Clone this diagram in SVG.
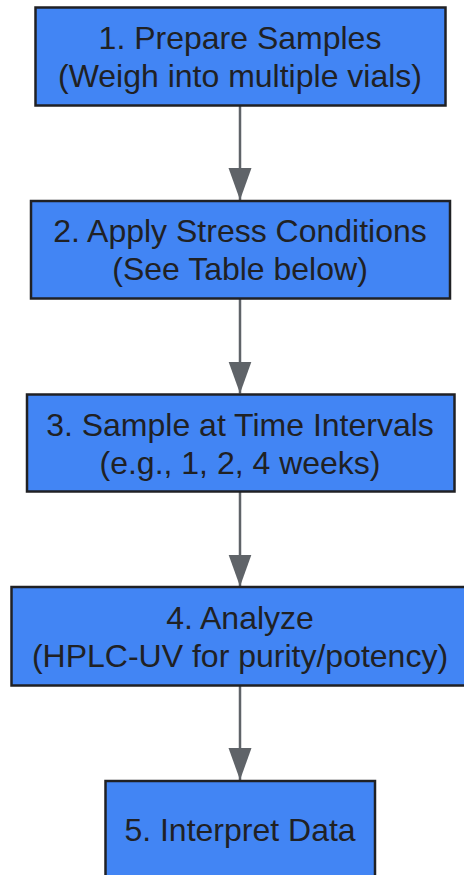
<svg xmlns="http://www.w3.org/2000/svg" width="464" height="875" viewBox="0 0 464 875">
<style>
.box{fill:#4285F4;stroke:#202124;stroke-width:2.5}
.t{font-family:"Liberation Sans",Arial,sans-serif;font-size:32px;fill:#202124;text-anchor:middle}
.e{stroke:#5f6368;stroke-width:2.5;fill:none}
</style>
<defs>
<marker id="ah" markerUnits="userSpaceOnUse" markerWidth="33" markerHeight="24" refX="32" refY="11.5" orient="auto">
<path d="M0,0 L32,11.5 L0,23 Z" fill="#5f6368"/>
</marker>
</defs>
<rect width="464" height="875" fill="#ffffff"/>
<g id="edges">
<line class="e" x1="240" y1="106" x2="240" y2="200" marker-end="url(#ah)"/>
<line class="e" x1="240" y1="299" x2="240" y2="393.5" marker-end="url(#ah)"/>
<line class="e" x1="240" y1="492" x2="240" y2="586.5" marker-end="url(#ah)"/>
<line class="e" x1="240" y1="686" x2="240" y2="780" marker-end="url(#ah)"/>
</g>
<g id="n1">
<rect class="box" x="35.5" y="7.5" width="410" height="98"/>
<text class="t" x="240" y="49">1. Prepare Samples</text>
<text class="t" x="240" y="87">(Weigh into multiple vials)</text>
</g>
<g id="n2">
<rect class="box" x="31" y="201" width="419" height="97.5"/>
<text class="t" x="240" y="242">2. Apply Stress Conditions</text>
<text class="t" x="240" y="280">(See Table below)</text>
</g>
<g id="n3">
<rect class="box" x="27" y="394.5" width="427.5" height="97"/>
<text class="t" x="240" y="436">3. Sample at Time Intervals</text>
<text class="t" x="240" y="474">(e.g., 1, 2, 4 weeks)</text>
</g>
<g id="n4">
<rect class="box" x="11.5" y="587" width="457" height="98.5"/>
<text class="t" x="240" y="629">4. Analyze</text>
<text class="t" x="240" y="667">(HPLC-UV for purity/potency)</text>
</g>
<g id="n5">
<rect class="box" x="105.5" y="781" width="269.5" height="98"/>
<text class="t" x="240" y="841">5. Interpret Data</text>
</g>
</svg>
